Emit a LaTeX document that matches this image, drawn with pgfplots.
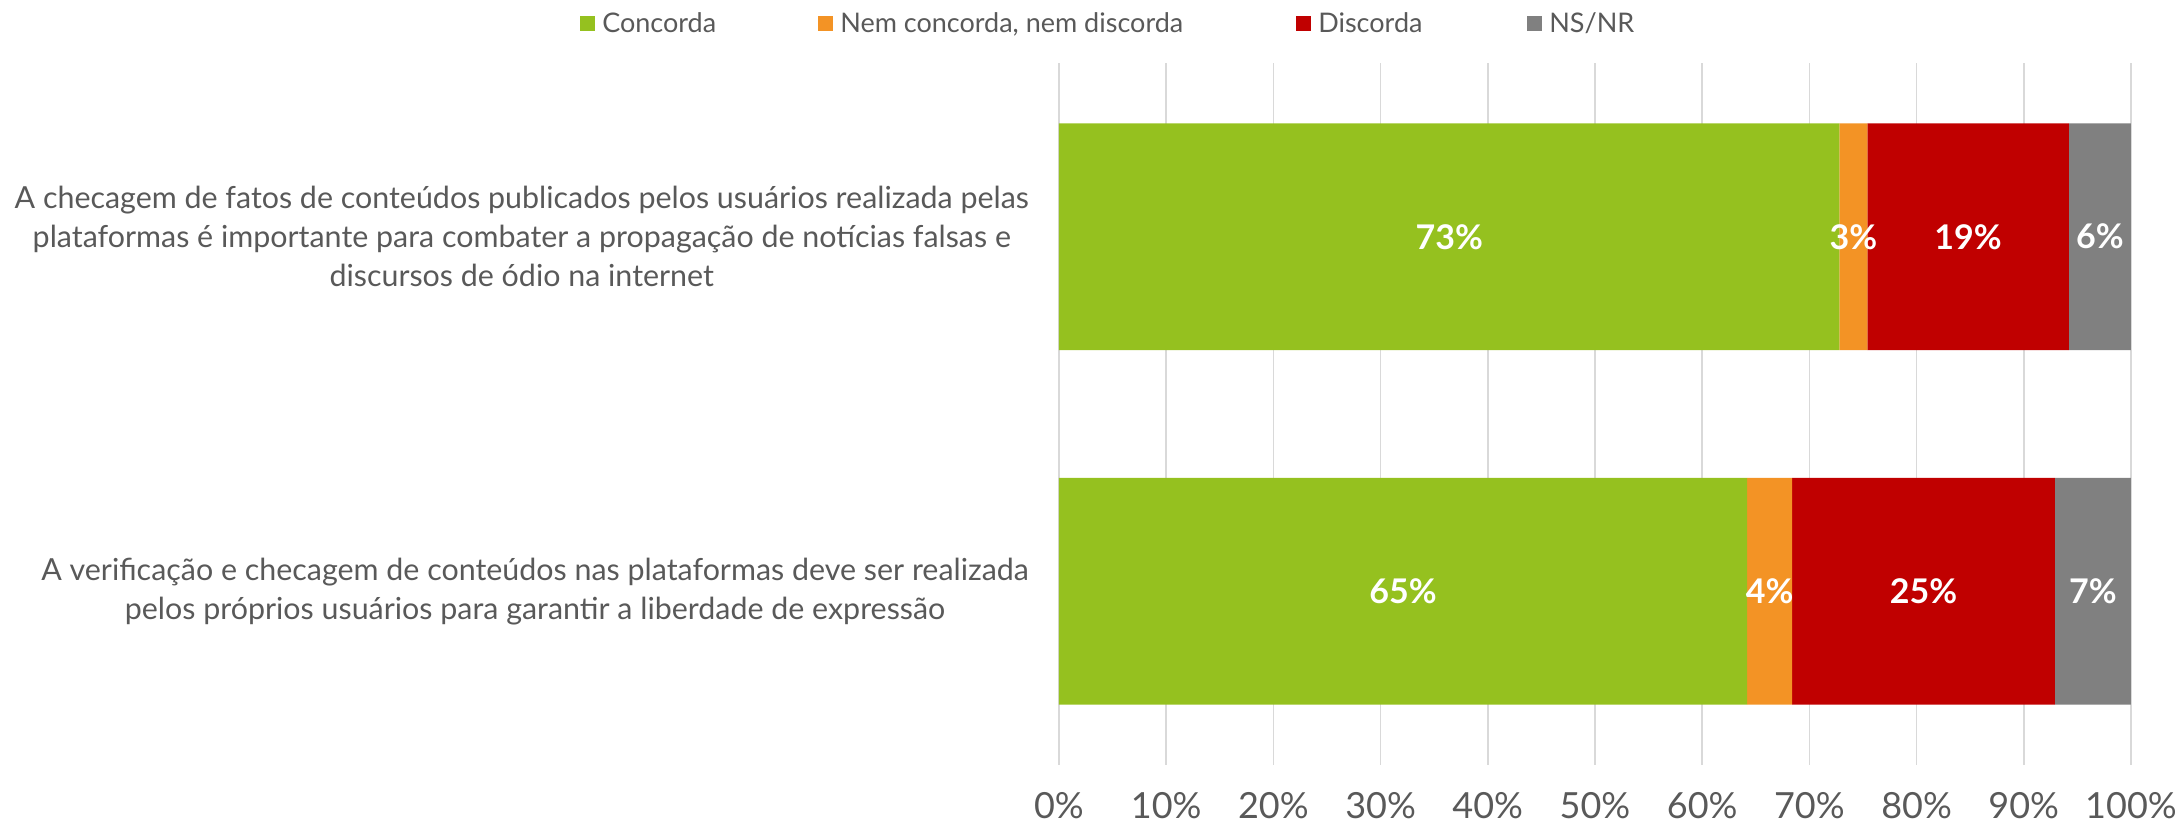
\documentclass[border=0pt]{standalone}
\usepackage{pgfplots}
\pgfplotsset{compat=1.18}
\usepackage{fontspec}
\setmainfont{Lato}
\definecolor{cgreen}{RGB}{149,193,31}
\definecolor{corange}{RGB}{243,147,37}
\definecolor{cred}{RGB}{192,0,0}
\definecolor{cgray}{RGB}{128,128,128}
\definecolor{cgrid}{RGB}{217,217,217}
\definecolor{ctext}{RGB}{89,89,89}
\begin{document}
\begin{tikzpicture}
\useasboundingbox (-529.5pt,-30pt) rectangle (560.5pt,382.5pt);
\pgfplotsset{common/.style={
  width=536pt, height=351pt, scale only axis,
  xmin=0, xmax=100, ymin=-0.49, ymax=1.49, y dir=reverse,
  at={(0,0)}, anchor=south west,
  axis line style={draw=none}, tick style={draw=none}}}
\begin{axis}[common, xbar stacked, bar width=0.64,
  xmajorgrids, grid style={cgrid, line width=0.8pt},
  xtick={0,10,...,100},
  xticklabel={\pgfmathprintnumber{\tick}\%},
  /pgf/number format/assume math mode=true,
  xticklabel style={font=\fontsize{18}{21}\selectfont, text=ctext, yshift=-10pt},
  ytick={0,1},
  yticklabels={{A checagem de fatos de conteúdos publicados pelos usuários realizada pelas\\plataformas é importante para combater a propagação de notícias falsas e\\discursos de ódio na internet},
               {A verificação e checagem de conteúdos nas plataformas deve ser realizada\\pelos próprios usuários para garantir a liberdade de expressão}},
  yticklabel style={align=center, font=\fontsize{15.2}{19.5}\selectfont, text=ctext, xshift=-11.5pt},
  legend columns=4,
  legend style={draw=none, at={(-0.4525,1.0556)}, anchor=west,
    font=\fontsize{13.5}{16}\selectfont, text=ctext,
    /tikz/every even column/.style={column sep=0pt},
    nodes={inner xsep=2pt}},
  legend image code/.code={\fill[#1] (0pt,-3.75pt) rectangle (7.5pt,3.75pt);},
]
\addplot[fill=cgreen, draw=none] coordinates {(72.8,0) (64.2,1)};
\addlegendentry{\makebox[107.5pt][l]{\hspace{1.5pt}Concorda}}
\addplot[fill=corange, draw=none] coordinates {(2.6,0) (4.2,1)};
\addlegendentry{\makebox[227.5pt][l]{\hspace{1.5pt}Nem concorda, nem discorda}}
\addplot[fill=cred, draw=none] coordinates {(18.8,0) (24.5,1)};
\addlegendentry{\makebox[104pt][l]{\hspace{1.5pt}Discorda}}
\addplot[fill=cgray, draw=none] coordinates {(5.8,0) (7.1,1)};
\addlegendentry{\hspace{1.5pt}NS/NR}
\end{axis}
\begin{axis}[common, hide axis]
\addplot[only marks, mark=none, point meta=explicit symbolic,
  nodes near coords, nodes near coords align={center},
  every node near coord/.style={anchor=center, text=white, font=\fontsize{17}{20}\selectfont\bfseries}]
  coordinates {
  (36.4,0) [73\%] (74.1,0) [3\%] (84.8,0) [19\%] (97.1,0) [6\%]
  (32.1,1) [65\%] (66.3,1) [4\%] (80.65,1) [25\%] (96.45,1) [7\%]
  };
\end{axis}
\end{tikzpicture}
\end{document}
